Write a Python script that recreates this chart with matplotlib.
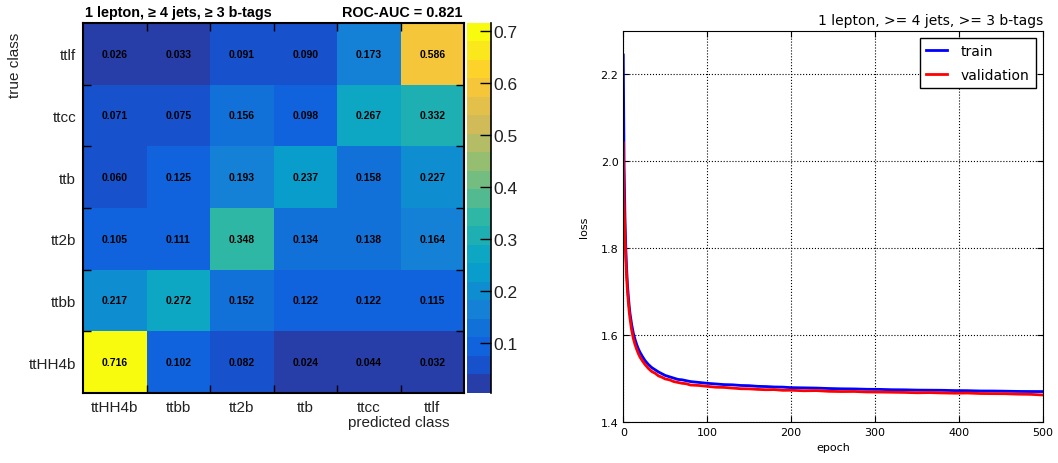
import matplotlib
matplotlib.use("Agg")
import matplotlib.pyplot as plt
from matplotlib.colors import LinearSegmentedColormap, ListedColormap, BoundaryNorm
import numpy as np

# confusion matrix, rows = true class (bottom to top), cols = predicted class
classes = ['ttHH4b', 'ttbb', 'tt2b', 'ttb', 'ttcc', 'ttlf']
cm_ttHH4b = [0.716, 0.102, 0.082, 0.024, 0.044, 0.032]
cm_ttbb = [0.217, 0.272, 0.152, 0.122, 0.122, 0.115]
cm_tt2b = [0.105, 0.111, 0.348, 0.134, 0.138, 0.164]
cm_ttb = [0.060, 0.125, 0.193, 0.237, 0.158, 0.227]
cm_ttcc = [0.071, 0.075, 0.156, 0.098, 0.267, 0.332]
cm_ttlf = [0.026, 0.033, 0.091, 0.090, 0.173, 0.586]
roc_auc = 0.821
cbar_ticks = [0.1, 0.2, 0.3, 0.4, 0.5, 0.6, 0.7]

# loss curves
epochs = [0, 1, 2, 3, 4, 5, 6, 7, 8, 10, 12, 14, 16, 18, 20, 23, 26, 30, 34, 38,
          42, 46, 50, 55, 60, 65, 70, 75, 80, 90, 100, 110, 120, 130, 140, 150,
          160, 170, 180, 190, 200, 215, 230, 245, 260, 275, 290, 305, 320, 335,
          350, 365, 380, 395, 410, 425, 440, 455, 470, 485, 499]
train_loss = [2.244, 1.985, 1.872, 1.800, 1.752, 1.716, 1.690, 1.668, 1.650, 1.624,
              1.604, 1.590, 1.578, 1.568, 1.560, 1.550, 1.541, 1.532, 1.525, 1.520,
              1.515, 1.511, 1.507, 1.504, 1.501, 1.498, 1.497, 1.495, 1.493, 1.491,
              1.489, 1.4875, 1.486, 1.4855, 1.484, 1.4835, 1.482, 1.4815, 1.4805, 1.4802,
              1.479, 1.4785, 1.4780, 1.4770, 1.4763, 1.4760, 1.4752, 1.4750, 1.4742, 1.4740,
              1.4733, 1.4731, 1.4729, 1.4722, 1.4720, 1.4713, 1.4712, 1.4708, 1.4703, 1.4701,
              1.4700]
val_loss = [2.042, 1.905, 1.828, 1.775, 1.733, 1.700, 1.676, 1.655, 1.638, 1.611,
            1.592, 1.578, 1.567, 1.557, 1.549, 1.540, 1.532, 1.523, 1.516, 1.512,
            1.506, 1.503, 1.499, 1.497, 1.493, 1.491, 1.489, 1.488, 1.485, 1.484,
            1.482, 1.480, 1.4795, 1.478, 1.4765, 1.4762, 1.475, 1.4742, 1.4745, 1.4728,
            1.4730, 1.4718, 1.4722, 1.4705, 1.4700, 1.4702, 1.4690, 1.4688, 1.4684, 1.4680,
            1.4672, 1.4676, 1.4668, 1.4662, 1.4666, 1.4655, 1.4652, 1.4650, 1.4640, 1.4636,
            1.4622]

# ROOT kBird palette
bird_r = [0.2082, 0.0592, 0.0780, 0.0232, 0.1802, 0.5301, 0.8186, 0.9956, 0.9764]
bird_g = [0.1664, 0.3599, 0.5041, 0.6419, 0.7178, 0.7492, 0.7328, 0.7862, 0.9832]
bird_b = [0.5293, 0.8684, 0.8385, 0.7914, 0.6425, 0.4662, 0.3499, 0.1968, 0.0539]
bird = LinearSegmentedColormap.from_list(
    'bird', list(zip(np.linspace(0, 1, 9), zip(bird_r, bird_g, bird_b))), N=255)
nlev = 20
band_colors = [bird(min(int((i + 0.99) * 255 / nlev), 254)) for i in range(nlev)]
band_cmap = ListedColormap(band_colors)

fig = plt.figure(figsize=(10.58, 4.64), dpi=100)
sans = ['Liberation Sans', 'DejaVu Sans']

# ---- left: confusion matrix ----
matrix = np.array([cm_ttHH4b, cm_ttbb, cm_tt2b, cm_ttb, cm_ttcc, cm_ttlf])
zmin, zmax = matrix.min(), matrix.max()
norm = BoundaryNorm(np.linspace(zmin, zmax, nlev + 1), nlev, clip=True)

ax1 = fig.add_axes([0.0785, 0.1509, 0.3601, 0.7974])
ax1.pcolormesh(np.arange(7), np.arange(7), matrix, cmap=band_cmap, norm=norm)
for i in range(6):
    for j in range(6):
        ax1.text(j + 0.5, i + 0.5, '%.3f' % matrix[i, j], ha='center', va='center',
                 fontsize=7.5, fontweight='bold', family=sans)
ax1.set_xlim(0, 6)
ax1.set_ylim(0, 6)
ax1.set_xticks(np.arange(6) + 0.5)
ax1.set_yticks(np.arange(6) + 0.5)
ax1.set_xticklabels(classes, family=sans, fontsize=11, color='#222222')
ax1.set_yticklabels(classes, family=sans, fontsize=11, color='#222222')
ax1.tick_params(which='major', length=0, pad=5)
ax1.set_xticks(np.arange(1, 6), minor=True)
ax1.set_yticks(np.arange(1, 6), minor=True)
ax1.tick_params(which='minor', direction='in', length=6, width=1,
                top=True, right=True, bottom=True, left=True)
for s in ax1.spines.values():
    s.set_linewidth(1.5)

fig.text(0.080, 0.972, '1 lepton, \u2265 4 jets, \u2265 3 b-tags', fontsize=10.4,
         fontweight='bold', family=sans, ha='left', va='center')
fig.text(0.4375, 0.972, 'ROC-AUC = %.3f' % roc_auc, fontsize=10.4,
         fontweight='bold', family=sans, ha='right', va='center')
fig.text(15 / 1058, 1 - 33 / 464, 'true class', rotation=90, ha='center', va='top',
         fontsize=11, family=sans, color='#222222')
fig.text(449 / 1058, 1 - 423 / 464, 'predicted class', ha='right', va='center',
         fontsize=11, family=sans, color='#222222')

# colorbar (palette axis)
cax = fig.add_axes([0.4414, 0.1509, 0.0227, 0.7974])
cb_lo, cb_hi = 0.0032, zmax
cax.pcolormesh([0, 1], np.linspace(cb_lo, cb_hi, nlev + 1),
               np.arange(nlev).reshape(-1, 1), cmap=band_cmap)
cax.set_xlim(0, 1)
cax.set_ylim(cb_lo, cb_hi)
cax.set_xticks([])
cax.yaxis.tick_right()
cax.set_yticks(cbar_ticks)
cax.set_yticklabels(['%.1f' % t for t in cbar_ticks], family=sans, fontsize=12.5,
                    color='#222222')
cax.tick_params(axis='y', direction='in', length=8, width=1, pad=2)
for k in ['left', 'top', 'bottom']:
    cax.spines[k].set_visible(False)
cax.spines['right'].set_linewidth(1.2)

# ---- right: loss ----
ax2 = fig.add_axes([0.5891, 0.0884, 0.3967, 0.8433])
ax2.plot(epochs, train_loss, color='blue', lw=2, label='train')
ax2.plot(epochs, val_loss, color='red', lw=2, label='validation')
ax2.set_xlim(0, 500)
ax2.set_ylim(1.4, 2.3)
ax2.set_xticks([0, 100, 200, 300, 400, 500])
ax2.set_yticks([1.4, 1.6, 1.8, 2.0, 2.2])
ax2.set_yticklabels(['1.4', '1.6', '1.8', '2.0', '2.2'])
ax2.tick_params(direction='in', labelsize=8, top=True, right=True, length=4)
ax2.grid(True, linestyle=':', color='black', lw=0.8)
ax2.set_xlabel('epoch', fontsize=8, labelpad=4)
ax2.set_ylabel('loss', fontsize=8, labelpad=8)
ax2.set_title('1 lepton, >= 4 jets, >= 3 b-tags', loc='right', fontsize=10, pad=5)
leg = ax2.legend(loc='upper right', fontsize=10, fancybox=False, framealpha=1,
                 edgecolor='black', handlelength=1.5, handletextpad=1.0,
                 borderpad=0.45, labelspacing=0.7)
leg.get_frame().set_linewidth(1)

plt.savefig('out.png', dpi=100)
